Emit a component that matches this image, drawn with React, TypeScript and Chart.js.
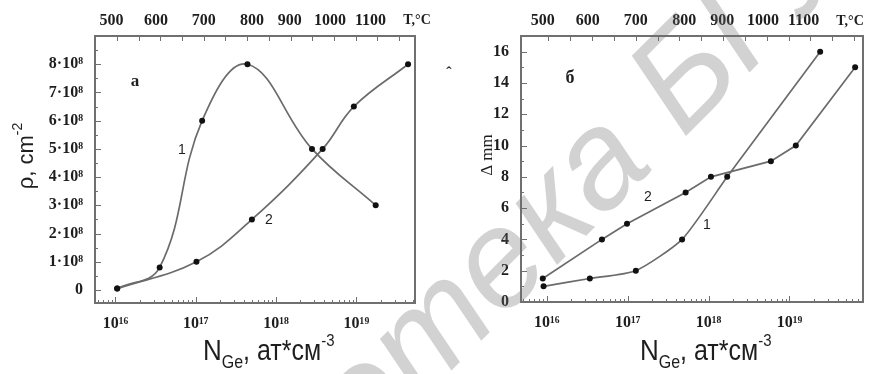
import React, { useEffect, useRef } from "react";
import { Chart, registerables } from "chart.js";

Chart.register(...registerables);

// ---- Panel "а": dislocation density ρ (×10⁸ cm⁻²) vs Ge concentration ----
const A_N_1 = [1.05e16, 3.55e16, 1.2e17, 4.4e17, 2.8e18, 1.74e19];
const A_RHO_1 = [0.05, 0.8, 6.0, 8.0, 5.0, 3.0];
const A_N_2 = [1.05e16, 1.02e17, 5.0e17, 3.8e18, 9.3e18, 4.4e19];
const A_RHO_2 = [0.05, 1.0, 2.5, 5.0, 6.5, 8.0];
const RHO_TICKS = [0, 1, 2, 3, 4, 5, 6, 7, 8];
const RHO_LABELS = ["0", "1·10⁸", "2·10⁸", "3·10⁸", "4·10⁸", "5·10⁸", "6·10⁸", "7·10⁸", "8·10⁸"];

// ---- Panel "б": Δ (nm) vs Ge concentration ----
const B_N_1 = [9.1e15, 3.4e16, 1.26e17, 4.7e17, 1.7e18, 2.4e19];
const B_D_1 = [1, 1.5, 2, 4, 8, 16];
const B_N_2 = [8.9e15, 4.8e16, 9.8e16, 5.2e17, 1.07e18, 5.9e18, 1.2e19, 6.5e19];
const B_D_2 = [1.5, 4, 5, 7, 8, 9, 10, 15];
const D_TICKS = [0, 2, 4, 6, 8, 10, 12, 14, 16];
const D_LABELS = ["0", "2", "4", "6", "8", "10", "12", "14", "16"];

// ---- shared axes: concentration decades (bottom) and temperature (top) ----
const DECADES = [1e16, 1e17, 1e18, 1e19];
const DECADE_LABELS = ["10¹⁶", "10¹⁷", "10¹⁸", "10¹⁹"];
const T_LABELS = ["500", "600", "700", "800", "900", "1000", "1100"];
const T_AT_N = [8.9e15, 3.2e16, 1.26e17, 5.0e17, 1.48e18, 4.7e18, 1.5e19];

const W = 879;
const H = 374;
const LINE = "#6b6b6b";
const FRAME = "#707070";
const INK = "#1e1e1e";
const SERIF = '"Liberation Serif", "Times New Roman", serif';
const SANS = '"Liberation Sans", Arial, sans-serif';

type Note = { text: string; x: number; y: number; font: string };

type Panel = {
  offset: number;
  width: number;
  area: { left: number; right: number; top: number; bottom: number };
  xMin: number;
  xMax: number;
  yMin: number;
  yMax: number;
  yTicks: number[];
  yLabels: string[];
  yMinor: number;
  yMajor: number;
  series: { n: number[]; v: number[]; tension: number }[];
  notes: Note[];
  yTitle: { text: string; sup?: string; x: number; y: number; font: string; supFont?: string };
  xTitleLeft: number;
};

const PANEL_A: Panel = {
  offset: 0,
  width: 440,
  area: { left: 95, right: 415, top: 36, bottom: 303 },
  xMin: Math.pow(10, 15.745),
  xMax: Math.pow(10, 19.73),
  yMin: -0.46,
  yMax: 9.0,
  yTicks: RHO_TICKS,
  yLabels: RHO_LABELS,
  yMinor: 0.5,
  yMajor: 1,
  series: [
    { n: A_N_1, v: A_RHO_1, tension: 0.4 },
    { n: A_N_2, v: A_RHO_2, tension: 0.4 },
  ],
  notes: [
    { text: "a", x: 135, y: 82, font: `bold 17px ${SERIF}` },
    { text: "1", x: 182, y: 150, font: `14px ${SANS}` },
    { text: "2", x: 269, y: 220, font: `14px ${SANS}` },
    { text: "T,°C", x: 417, y: 20, font: `bold 14px ${SERIF}` },
  ],
  yTitle: { text: "ρ, cm", sup: "-2", x: 33, y: 156, font: `22px ${SANS}`, supFont: `14px ${SANS}` },
  xTitleLeft: 203,
};

const PANEL_B: Panel = {
  offset: 440,
  width: 439,
  area: { left: 81, right: 423, top: 36, bottom: 302 },
  xMin: Math.pow(10, 15.68),
  xMax: Math.pow(10, 19.91),
  yMin: 0,
  yMax: 17,
  yTicks: D_TICKS,
  yLabels: D_LABELS,
  yMinor: 1,
  yMajor: 2,
  series: [
    { n: B_N_1, v: B_D_1, tension: 0.2 },
    { n: B_N_2, v: B_D_2, tension: 0 },
  ],
  notes: [
    { text: "б", x: 130, y: 78, font: `bold 18px ${SERIF}` },
    { text: "2", x: 208, y: 197, font: `14px ${SANS}` },
    { text: "1", x: 267, y: 225, font: `14px ${SANS}` },
    { text: "T,°C", x: 410, y: 21, font: `bold 14px ${SERIF}` },
    { text: "ˆ", x: 9, y: 74, font: `bold 16px ${SERIF}` },
  ],
  yTitle: { text: "Δ mm", x: 52, y: 155, font: `17px ${SERIF}` },
  xTitleLeft: 200,
};

function drawXTitle(ctx: CanvasRenderingContext2D, left: number, baseline: number) {
  ctx.save();
  ctx.translate(left, baseline);
  ctx.scale(1, 1.15);
  ctx.fillStyle = INK;
  ctx.textAlign = "left";
  ctx.textBaseline = "alphabetic";
  let x = 0;
  ctx.font = `26px ${SANS}`;
  ctx.fillText("N", x, 0);
  x += ctx.measureText("N").width;
  ctx.font = `16px ${SANS}`;
  ctx.fillText("Ge", x, 7);
  x += ctx.measureText("Ge").width;
  ctx.font = `25px ${SANS}`;
  ctx.fillText(", ат*см", x, 0);
  x += ctx.measureText(", ат*см").width;
  ctx.font = `15px ${SANS}`;
  ctx.fillText("-3", x, -12);
  ctx.restore();
}

function framePlugin(p: Panel) {
  return {
    id: "frameAndNotes",
    afterDraw(chart: any) {
      const ctx: CanvasRenderingContext2D = chart.ctx;
      const a = chart.chartArea;
      const xs = chart.scales.x;
      const ys = chart.scales.y;
      ctx.save();
      ctx.strokeStyle = FRAME;
      ctx.lineWidth = 1;

      // inward ticks on the bottom (log decades with minor marks)
      ctx.beginPath();
      for (let e = 15; e <= 19; e++) {
        for (let m = 1; m <= 9; m++) {
          const v = m * Math.pow(10, e);
          if (v < p.xMin || v > p.xMax) continue;
          const px = Math.round(xs.getPixelForValue(v)) + 0.5;
          const len = m === 1 ? 6 : 3;
          ctx.moveTo(px, a.bottom);
          ctx.lineTo(px, a.bottom - len);
        }
      }
      // evenly spaced marks along the top edge
      for (let k = 0; k < 16; k++) {
        const v = Math.pow(10, 16.02 + 0.27 * k);
        if (v < p.xMin || v > p.xMax) continue;
        const px = Math.round(xs.getPixelForValue(v)) + 0.5;
        ctx.moveTo(px, a.top);
        ctx.lineTo(px, a.top + 5);
      }
      // left edge ticks
      const start = Math.ceil(p.yMin / p.yMinor) * p.yMinor;
      for (let v = start; v <= p.yMax + 1e-9; v += p.yMinor) {
        const py = Math.round(ys.getPixelForValue(v)) + 0.5;
        const major = Math.abs(v / p.yMajor - Math.round(v / p.yMajor)) < 1e-6;
        ctx.moveTo(a.left, py);
        ctx.lineTo(a.left + (major ? 6 : 3), py);
      }
      ctx.stroke();

      // frame
      ctx.lineWidth = 2;
      ctx.strokeRect(a.left, a.top, a.right - a.left, a.bottom - a.top);

      // annotations
      ctx.fillStyle = INK;
      ctx.textAlign = "center";
      ctx.textBaseline = "middle";
      for (const n of p.notes) {
        ctx.font = n.font;
        ctx.fillText(n.text, n.x, n.y);
      }

      // y title (rotated)
      const t = p.yTitle;
      ctx.save();
      ctx.translate(t.x, t.y);
      ctx.rotate(-Math.PI / 2);
      ctx.textBaseline = "alphabetic";
      ctx.font = t.font;
      const w1 = ctx.measureText(t.text).width;
      let w2 = 0;
      if (t.sup && t.supFont) {
        ctx.font = t.supFont;
        w2 = ctx.measureText(t.sup).width;
      }
      const x0 = -(w1 + w2) / 2;
      ctx.textAlign = "left";
      ctx.font = t.font;
      ctx.fillText(t.text, x0, 0);
      if (t.sup && t.supFont) {
        ctx.font = t.supFont;
        ctx.fillText(t.sup, x0 + w1, -11);
      }
      ctx.restore();

      drawXTitle(ctx, p.xTitleLeft, 360);
      ctx.restore();
    },
  };
}

function buildConfig(p: Panel): any {
  const tickFont = { family: SERIF, size: 16, weight: "bold" as const };
  return {
    type: "scatter",
    data: {
      datasets: p.series.map((s) => ({
        data: s.n.map((n, i) => ({ x: n, y: s.v[i] })),
        showLine: true,
        borderColor: LINE,
        borderWidth: 1.7,
        tension: s.tension,
        pointRadius: 3,
        pointBackgroundColor: "#111",
        pointBorderWidth: 0,
        xAxisID: "x",
        yAxisID: "y",
      })),
    },
    options: {
      animation: false,
      responsive: false,
      events: [],
      layout: {
        autoPadding: false,
        padding: { left: 0, top: 0, right: p.width - p.area.right, bottom: 0 },
      },
      plugins: { legend: { display: false }, tooltip: { enabled: false } },
      scales: {
        x: {
          type: "logarithmic",
          position: "bottom",
          min: p.xMin,
          max: p.xMax,
          grid: { display: false, drawTicks: false },
          border: { display: false },
          afterBuildTicks: (s: any) => {
            s.ticks = DECADES.map((v) => ({ value: v }));
          },
          afterFit: (s: any) => {
            s.height = H - p.area.bottom;
          },
          ticks: {
            callback: (_v: any, i: number) => DECADE_LABELS[i],
            font: tickFont,
            color: INK,
            padding: 11,
            maxRotation: 0,
            autoSkip: false,
          },
        },
        top: {
          type: "logarithmic",
          position: "top",
          axis: "x",
          min: p.xMin,
          max: p.xMax,
          grid: { display: false, drawTicks: false },
          border: { display: false },
          afterBuildTicks: (s: any) => {
            s.ticks = T_AT_N.map((v) => ({ value: v }));
          },
          afterFit: (s: any) => {
            s.height = p.area.top;
          },
          ticks: {
            callback: (_v: any, i: number) => T_LABELS[i],
            font: tickFont,
            color: INK,
            padding: 6,
            maxRotation: 0,
            autoSkip: false,
          },
        },
        y: {
          type: "linear",
          position: "left",
          min: p.yMin,
          max: p.yMax,
          grid: { display: false, drawTicks: false },
          border: { display: false },
          afterBuildTicks: (s: any) => {
            s.ticks = p.yTicks.map((v) => ({ value: v }));
          },
          afterFit: (s: any) => {
            s.width = p.area.left;
          },
          ticks: {
            callback: (_v: any, i: number) => p.yLabels[i],
            font: tickFont,
            color: INK,
            padding: 12,
            autoSkip: false,
          },
        },
      },
    },
    plugins: [framePlugin(p)],
  };
}

function PanelChart({ panel }: { panel: Panel }) {
  const ref = useRef<HTMLCanvasElement | null>(null);
  useEffect(() => {
    if (!ref.current) return;
    const chart = new Chart(ref.current, buildConfig(panel));
    return () => chart.destroy();
  }, [panel]);
  return (
    <canvas
      ref={ref}
      width={panel.width}
      height={H}
      style={{ position: "absolute", left: panel.offset, top: 0, width: panel.width, height: H }}
    />
  );
}

// Faint diagonal library stamp laid over both panels
function Stamp() {
  const ref = useRef<HTMLCanvasElement | null>(null);
  useEffect(() => {
    const c = ref.current;
    if (!c) return;
    const ctx = c.getContext("2d");
    if (!ctx) return;
    ctx.clearRect(0, 0, W, H);
    ctx.save();
    ctx.font = `italic 138px ${SANS}`;
    const pre = "Библио";
    const preW = ctx.measureText(pre).width;
    ctx.translate(420, 402);
    ctx.rotate((-45 * Math.PI) / 180);
    ctx.fillStyle = "rgba(110,110,110,0.31)";
    ctx.textBaseline = "alphabetic";
    ctx.fillText("Библиотека БГУ", -preW, 0);
    ctx.restore();
  }, []);
  return (
    <canvas
      ref={ref}
      width={W}
      height={H}
      style={{ position: "absolute", left: 0, top: 0, width: W, height: H, pointerEvents: "none" }}
    />
  );
}

export default function App() {
  return (
    <div style={{ position: "fixed", left: 0, top: 0, width: W, height: H, background: "#fff", overflow: "hidden" }}>
      <PanelChart panel={PANEL_A} />
      <PanelChart panel={PANEL_B} />
      <Stamp />
    </div>
  );
}
